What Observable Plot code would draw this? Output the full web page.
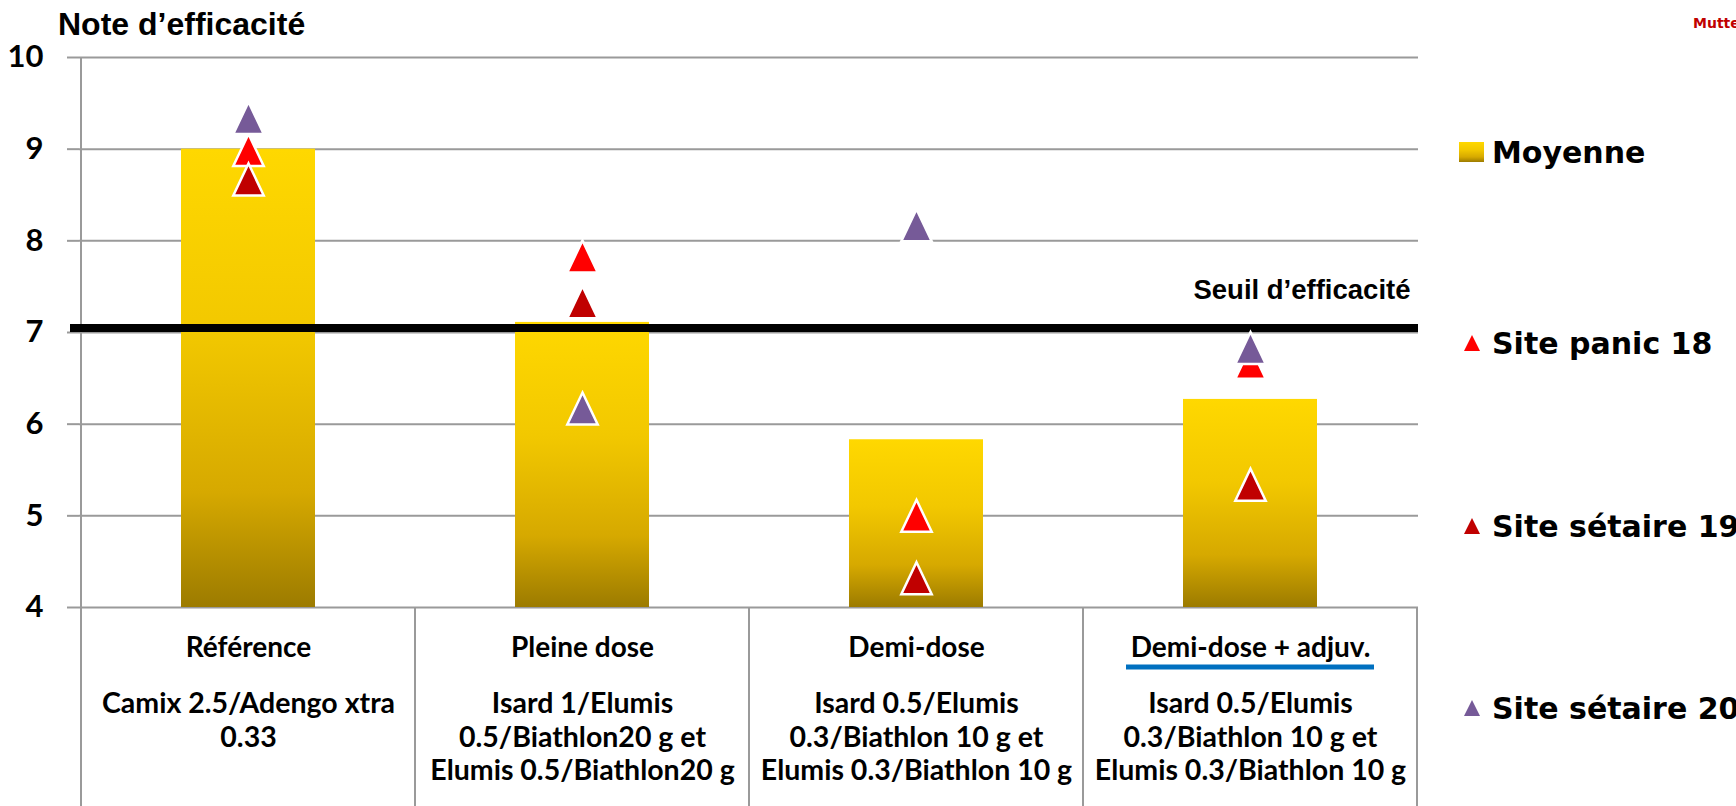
<!DOCTYPE html>
<html>
<head>
<meta charset="utf-8">
<script src="https://cdn.jsdelivr.net/npm/d3@7"></script>
<script src="https://cdn.jsdelivr.net/npm/@observablehq/plot@0.6"></script>
<style>
html, body { margin: 0; padding: 0; background: #fff; overflow: hidden; width: 1736px; height: 806px; }
#wrap { position: relative; width: 1736px; height: 806px; }
#chart { position: absolute; left: 0; top: 0; }
#title { position: absolute; left: 58px; top: 6px; font: bold 32px "Liberation Sans", Arial, sans-serif; color: #000; white-space: nowrap; }
#corner { position: absolute; left: 1693px; top: 15px; font: bold 14px "DejaVu Sans", Verdana, sans-serif; color: #c00000; white-space: nowrap; }
.item { position: absolute; left: 1459px; height: 40px; display: flex; align-items: center; white-space: nowrap; font: bold 30px "DejaVu Sans", Verdana, sans-serif; color: #000; }
.item .sw { width: 25px; display: flex; justify-content: center; margin-right: 8px; }
</style>
</head>
<body>
<div id="wrap">
  <div id="chart"></div>
  <div id="title"></div>
  <div id="corner"></div>
  <div id="legend"></div>
</div>
<script>
// ---- data ----
const categories = ["Référence", "Pleine dose", "Demi-dose", "Demi-dose + adjuv."];
const descriptions = [
  "Camix 2.5/Adengo xtra\n0.33",
  "Isard 1/Elumis\n0.5/Biathlon20 g et\nElumis 0.5/Biathlon20 g",
  "Isard 0.5/Elumis\n0.3/Biathlon 10 g et\nElumis 0.3/Biathlon 10 g",
  "Isard 0.5/Elumis\n0.3/Biathlon 10 g et\nElumis 0.3/Biathlon 10 g"
];
const moyenne = [9.0, 7.11, 5.83, 6.27];
const sitePanic18 = [8.99, 7.83, 5.0, 6.67];
const siteSetaire19 = [8.67, 7.33, 4.32, 5.34];
const siteSetaire20 = [9.34, 6.17, 8.17, 6.83];
const seuil = 7.05;
const seuilLabel = "Seuil d’efficacité";
const yTicks = [4, 5, 6, 7, 8, 9, 10];
const titleText = "Note d’efficacité";
const cornerText = "Mutte";
const legendLabels = ["Moyenne", "Site panic 18", "Site sétaire 19", "Site sétaire 20"];
const colors = {moyenne: "url(#goldGrad)", s18: "#ff0000", s19: "#c00000", s20: "#765a98"};

const rows = categories.map((c, i) => ({
  cat: c, desc: descriptions[i], moyenne: moyenne[i],
  s18: sitePanic18[i], s19: siteSetaire19[i], s20: siteSetaire20[i]
}));

// triangle symbol centred on its bounding box (like spreadsheet markers)
const tri = {
  draw(ctx, size) {
    const r = Math.sqrt(size / Math.PI);
    const h = r, w = r * 0.95;
    ctx.moveTo(0, -h); ctx.lineTo(w, h); ctx.lineTo(-w, h); ctx.closePath();
  }
};

const gridColor = "#9a9a9a";
const catFont = "Lato, 'Open Sans', sans-serif";

function defsMark() {
  const defs = d3.create("svg:defs");
  const g = defs.append("linearGradient").attr("id", "goldGrad")
    .attr("x1", 0).attr("y1", 0).attr("x2", 0).attr("y2", 1);
  [[0, "#ffd800"], [0.4, "#f2c800"], [0.75, "#d6a900"], [1, "#9c7b00"]]
    .forEach(([o, c]) => g.append("stop").attr("offset", o).attr("stop-color", c));
  return defs.node();
}

function tableMark(index, scales, values, dims) {
  const x = scales.x, y = scales.y;
  const g = d3.create("svg:g");
  const step = x.step();
  const left = x(categories[0]) + x.bandwidth() / 2 - step / 2;
  const edges = d3.range(categories.length + 1).map(i => left + i * step);
  edges.forEach((e, i) => {
    g.append("line")
      .attr("x1", e).attr("x2", e)
      .attr("y1", i === 0 ? y(yTicks[yTicks.length - 1]) : y(yTicks[0]))
      .attr("y2", dims.height)
      .attr("stroke", gridColor).attr("stroke-width", 2);
  });
  // blue underline under the last category title
  const cx = x(categories[3]) + x.bandwidth() / 2;
  g.append("line")
    .attr("x1", cx - 124).attr("x2", cx + 124)
    .attr("y1", y(yTicks[0]) + 60).attr("y2", y(yTicks[0]) + 60)
    .attr("stroke", "#0070c0").attr("stroke-width", 5);
  return g.node();
}

const chart = Plot.plot({
  width: 1736,
  height: 806,
  marginLeft: 79,
  marginRight: 318,
  marginTop: 57,
  marginBottom: 199,
  style: {fontFamily: catFont, background: "white", color: "black"},
  x: {domain: categories, paddingInner: 0.6, paddingOuter: 0.3, axis: null},
  y: {domain: [yTicks[0], yTicks[yTicks.length - 1]], axis: null},
  marks: [
    defsMark,
    Plot.gridY(yTicks, {stroke: gridColor, strokeOpacity: 1, strokeWidth: 2}),
    Plot.axisY({ticks: yTicks, tickSize: 12, tickPadding: 24, stroke: gridColor, strokeWidth: 2, label: null,
      fill: "black", fontSize: 31, fontWeight: "bold", fontFamily: catFont, tickFormat: d => String(d)}),
    tableMark,
    Plot.axisX({tickSize: 0, tickPadding: 30, fontSize: 28, fontWeight: "bold", fontFamily: catFont, label: null,
      fill: "black", tickFormat: d => d}),
    Plot.axisX({tickSize: 0, tickPadding: 82, fontSize: 28.5, fontWeight: "bold", fontFamily: catFont, label: null,
      fill: "black", lineHeight: 1.17, tickFormat: d => descriptions[categories.indexOf(d)]}),
    Plot.barY(rows, {x: "cat", y1: yTicks[0], y2: "moyenne", fill: colors.moyenne}),
    Plot.ruleY([seuil], {stroke: "black", strokeWidth: 8, insetLeft: -9}),
    Plot.text([seuilLabel], {text: d => d, y: seuil, frameAnchor: "right", textAnchor: "end", dx: -8, dy: -38,
      fontSize: 27.5, fontWeight: "bold", fontFamily: "'Liberation Sans', Arial, sans-serif", fill: "black"}),
    Plot.dot(rows, {x: "cat", y: "s18", symbol: tri, r: 16, fill: colors.s18, stroke: "white", strokeWidth: 2.5}),
    Plot.dot(rows, {x: "cat", y: "s19", symbol: tri, r: 16, fill: colors.s19, stroke: "white", strokeWidth: 2.5}),
    Plot.dot(rows, {x: "cat", y: "s20", symbol: tri, r: 16, fill: colors.s20, stroke: "white", strokeWidth: 2.5})
  ]
});
document.getElementById("chart").appendChild(chart);
document.getElementById("title").textContent = titleText;
document.getElementById("corner").textContent = cornerText;

// legend (right side)
const legendY = [152, 343, 526, 708];
const legendSw = [
  '<div style="width:25px;height:20px;background:linear-gradient(#ffd800,#f2c800 40%,#d6a900 75%,#9c7b00)"></div>',
  `<svg width="18" height="16"><polygon points="9,0 17,16 1,16" fill="${colors.s18}"/></svg>`,
  `<svg width="18" height="16"><polygon points="9,0 17,16 1,16" fill="${colors.s19}"/></svg>`,
  `<svg width="18" height="16"><polygon points="9,0 17,16 1,16" fill="${colors.s20}"/></svg>`
];
const legend = document.getElementById("legend");
legendLabels.forEach((lab, i) => {
  const div = document.createElement("div");
  div.className = "item";
  div.style.top = (legendY[i] - 20) + "px";
  div.innerHTML = `<span class="sw">${legendSw[i]}</span><span>${lab}</span>`;
  legend.appendChild(div);
});
</script>
</body>
</html>
